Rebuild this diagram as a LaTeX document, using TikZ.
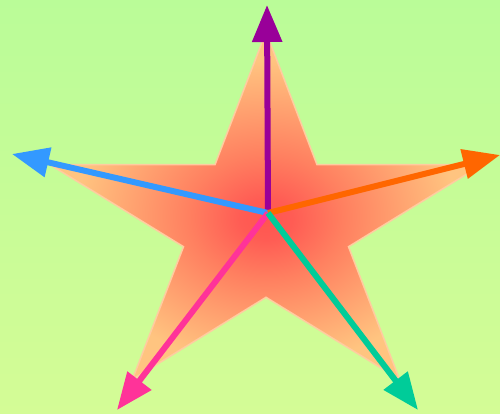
\documentclass[tikz,border=0pt]{standalone}
\usetikzlibrary{arrows.meta}
\definecolor{bgtop}{RGB}{186,252,152}
\definecolor{bgbot}{RGB}{212,252,150}
\definecolor{starc}{RGB}{255,85,80}
\definecolor{starc2}{RGB}{255,92,84}
\definecolor{starm}{RGB}{255,128,96}
\definecolor{staro}{RGB}{255,196,128}
\definecolor{starline}{RGB}{255,204,160}
\definecolor{vpurple}{RGB}{153,0,153}
\definecolor{vblue}{RGB}{51,153,255}
\definecolor{vorange}{RGB}{255,102,0}
\definecolor{vpink}{RGB}{255,51,153}
\definecolor{vgreen}{RGB}{0,204,153}
\pgfdeclareradialshading{starshade}{\pgfpoint{0bp}{-2bp}}{color(0bp)=(starc);color(3bp)=(starc2);color(9bp)=(starm);color(22bp)=(staro);color(50bp)=(staro)}
\tikzset{vec/.style={line width=6pt,-{Triangle[length=37pt,width=29pt]}}}
\begin{document}
\begin{tikzpicture}[x=1pt,y=-1pt]
\useasboundingbox (0,0) rectangle (500,413);
\shade[top color=bgtop,bottom color=bgbot] (0,0) rectangle (500,413);
\path[shading=starshade,draw=starline,line width=1.5pt,line join=miter]
  (266,32) -- (317,164.7) -- (481.9,164.7) -- (348.5,246.7) -- (399.5,379.3)
  -- (266,297.3) -- (132.5,379.3) -- (183.5,246.7) -- (50.1,164.7) -- (215,164.7) -- cycle;
\coordinate (c) at (268,213);
\coordinate (tU) at (267,5);
\coordinate (tL) at (12,154);
\coordinate (tR) at (500,155);
\coordinate (tBL) at (117,410);
\coordinate (tBR) at (418,410);
\draw[vec,vpurple] (c) -- (tU);
\draw[vec,vblue] (c) -- (tL);
\draw[vec,vorange] (c) -- (tR);
\draw[vec,vpink] (c) -- (tBL);
\draw[vec,vgreen] (c) -- (tBR);
\end{tikzpicture}
\end{document}
